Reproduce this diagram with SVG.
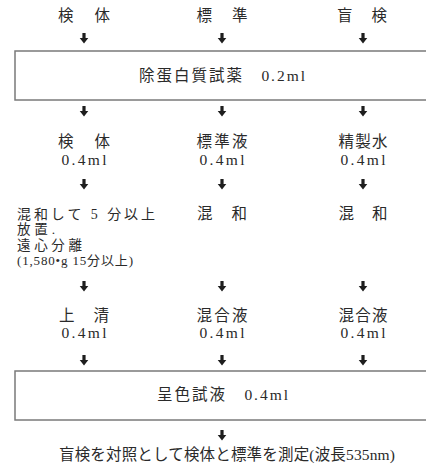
<svg xmlns="http://www.w3.org/2000/svg" width="426" height="469" viewBox="0 0 426 469">
<style>
text{font-family:"Liberation Serif","Noto Sans CJK JP",serif;font-size:15.5px;fill:#2a2a2a}
.c{text-anchor:middle}
.s{font-size:13.5px}
.box{fill:#fff;stroke:#7a7a7a;stroke-width:1.5}
.arr{fill:#1e1e1e}
</style>
<defs>
<path id="a" class="arr" d="M-1.6,0 H1.6 V5 H4.3 L0,10.5 L-4.3,5 H-1.6 Z"/>
</defs>
<rect width="426" height="469" fill="#fff"/>
<g id="connectors">
<use href="#a" x="84" y="33"/><use href="#a" x="222" y="33"/><use href="#a" x="363" y="33"/>
<use href="#a" x="84" y="106"/><use href="#a" x="222" y="106"/><use href="#a" x="363" y="106"/>
<use href="#a" x="84" y="179"/><use href="#a" x="222" y="179"/><use href="#a" x="363" y="179"/>
<use href="#a" x="84" y="281"/><use href="#a" x="222" y="281"/><use href="#a" x="363" y="281"/>
<use href="#a" x="84" y="355"/><use href="#a" x="222" y="355"/><use href="#a" x="363" y="355"/>
<use href="#a" x="222" y="430"/>
</g>
<g id="top-specimen"><text class="c" x="84" y="21" textLength="52">検　体</text></g>
<g id="top-standard"><text class="c" x="222" y="21" textLength="51">標　準</text></g>
<g id="top-blank"><text class="c" x="362" y="21" textLength="50">盲　検</text></g>
<g id="box-deproteinize">
<rect class="box" x="15" y="51" width="420" height="49"/>
<text class="c" x="222" y="81" textLength="166">除蛋白質試薬　0.2ml</text>
</g>
<g id="specimen-04"><text class="c" x="84" y="147" textLength="52">検　体</text><text class="c" x="84" y="165" textLength="45">0.4ml</text></g>
<g id="standard-04"><text class="c" x="222" y="147" textLength="51">標準液</text><text class="c" x="222" y="165" textLength="45">0.4ml</text></g>
<g id="water-04"><text class="c" x="363" y="147" textLength="49">精製水</text><text class="c" x="363" y="165" textLength="45">0.4ml</text></g>
<g id="specimen-mix">
<text x="17" y="218.5" textLength="138" style="font-size:14px">混和して 5 分以上</text>
<text class="s" x="17" y="234" textLength="38">放置.</text>
<text class="s" x="17" y="249.5" textLength="65">遠心分離</text>
<text x="17" y="265" textLength="116" style="font-size:13px">(1,580•g 15分以上)</text>
</g>
<g id="standard-mix"><text class="c" x="222" y="219" textLength="50">混　和</text></g>
<g id="water-mix"><text class="c" x="363" y="219" textLength="49">混　和</text></g>
<g id="supernatant"><text class="c" x="84" y="321" textLength="50">上　清</text><text class="c" x="84" y="338" textLength="45">0.4ml</text></g>
<g id="standard-mixture"><text class="c" x="222" y="321" textLength="51">混合液</text><text class="c" x="222" y="338" textLength="45">0.4ml</text></g>
<g id="water-mixture"><text class="c" x="363" y="321" textLength="49">混合液</text><text class="c" x="363" y="338" textLength="45">0.4ml</text></g>
<g id="box-color-reagent">
<rect class="box" x="15" y="371" width="420" height="49"/>
<text class="c" x="222.5" y="400" textLength="131">呈色試液　0.4ml</text>
</g>
<g id="measure"><text class="c" x="227" y="460" textLength="336">盲検を対照として検体と標準を測定(波長535nm)</text></g>
</svg>
